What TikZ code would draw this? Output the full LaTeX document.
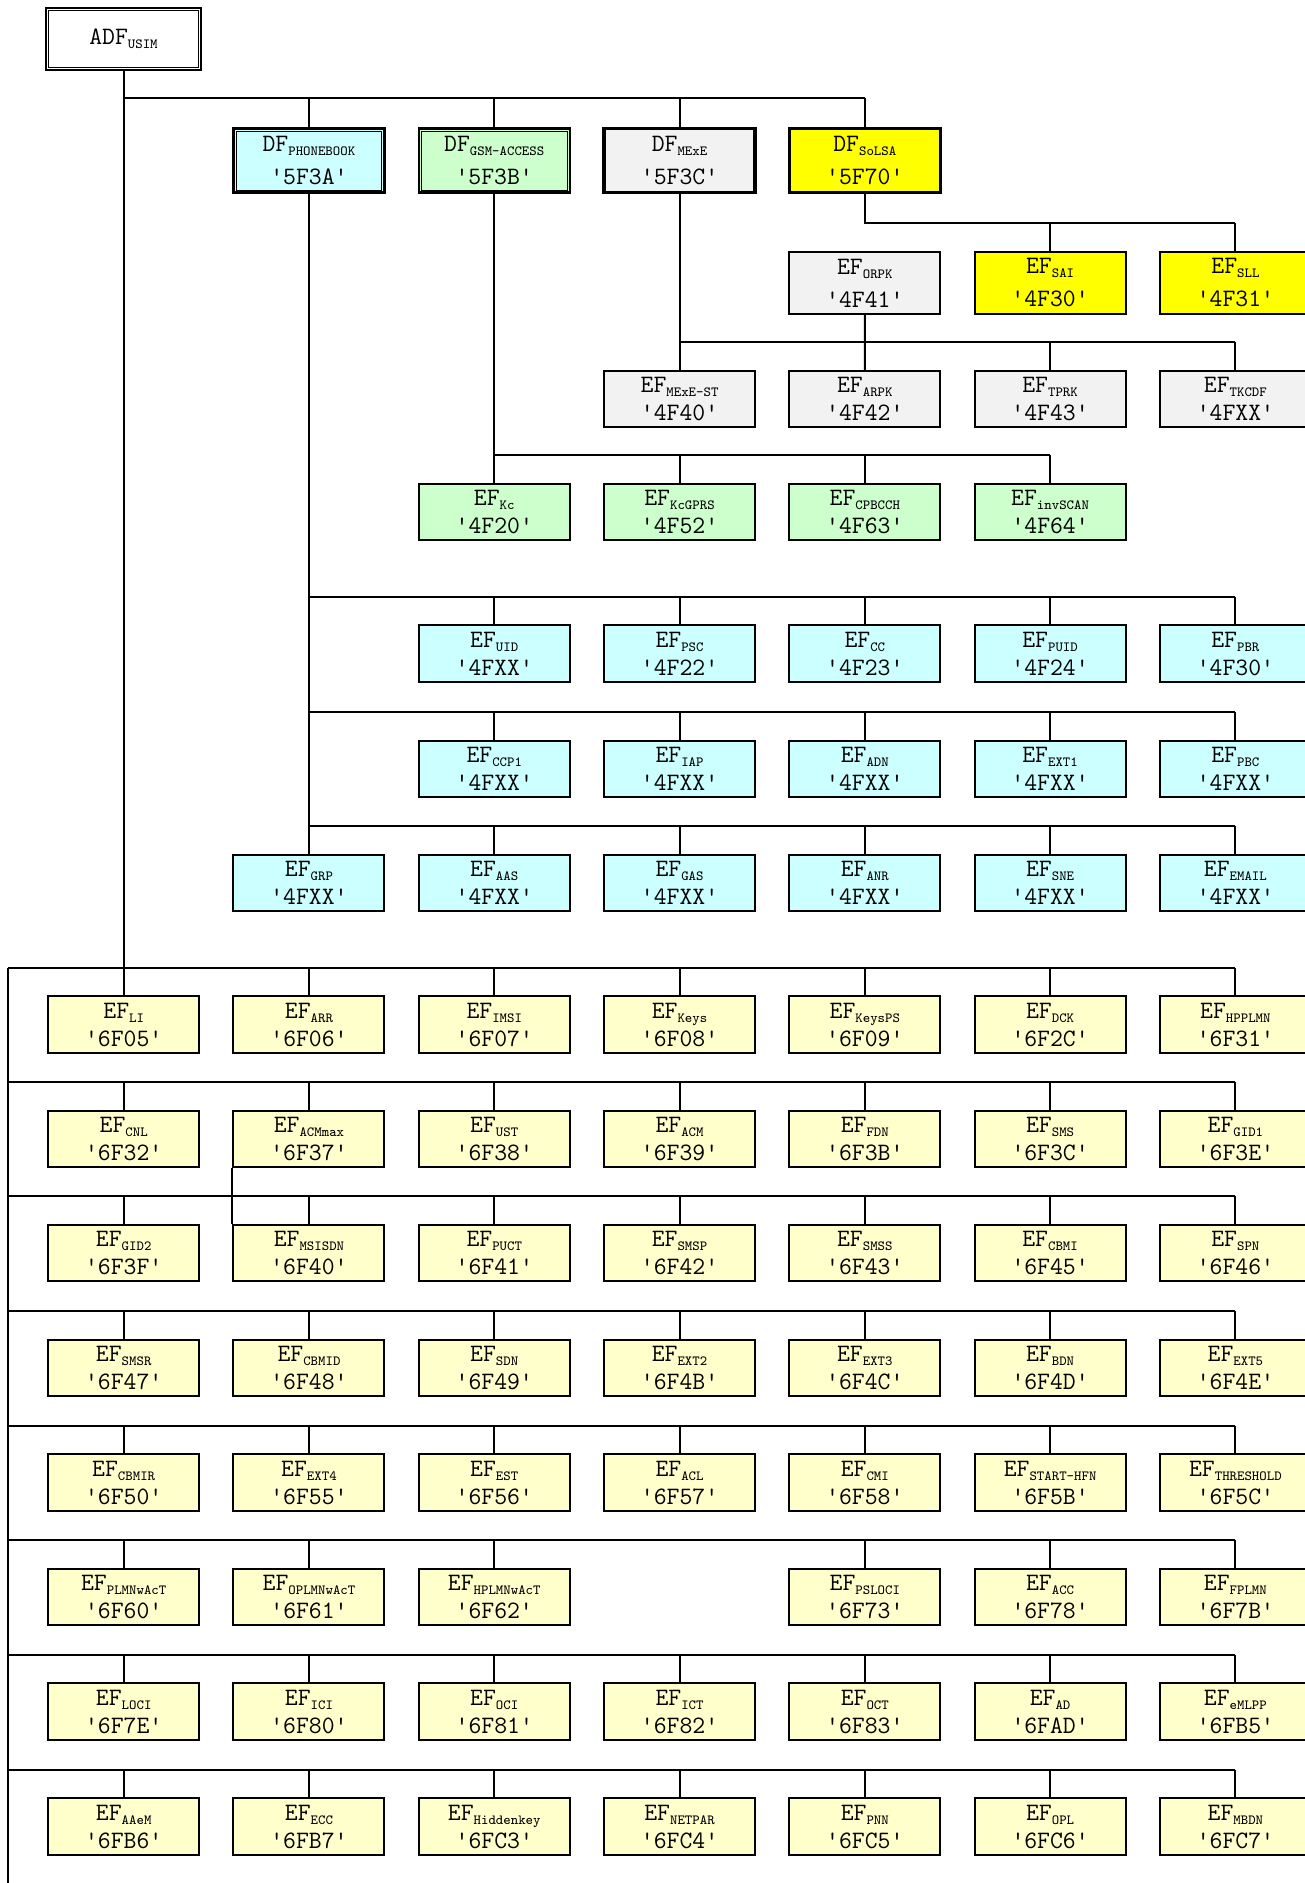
\documentclass[tikz,border=0pt]{standalone}
\definecolor{cyanf}{HTML}{CCFFFF}
\definecolor{greenf}{HTML}{CCFFCC}
\definecolor{grayf}{HTML}{F2F2F2}
\definecolor{ybright}{HTML}{FFFF00}
\definecolor{ylight}{HTML}{FFFFCC}
\newcommand\mysub[1]{\raisebox{-2pt}{\fontsize{7}{7}\selectfont #1}}
\newcommand\qt{\textquotesingle}
\newcommand\mainf{\ttfamily\fontsize{12.5}{14}\selectfont}
% generic row: #1 name, #2 bus y, #3 bus left x, #4 bus right x, #5 style, #6 list ix/sub/code
\newcommand\trow[6]{%
  \coordinate (bus#1) at (#3,#2);
  \coordinate (bus#1r) at (#4,#2);
  \draw[conn] (bus#1) -- (bus#1r);
  \foreach \ix/\nm/\cd in {#6} {
    \node[#5] (#1c\ix) at ({123.7+185.28*\ix},{#2+57}) {EF\mysub{\nm}\\\qt\cd\qt};
    \draw[conn] (#1c\ix.north) -- (#1c\ix.north |- bus#1);
  }%
}
\begin{document}
\begin{tikzpicture}[x=0.5pt,y=-0.5pt,
  conn/.style={line width=1pt},
  box/.style={draw, line width=1pt, minimum width=75.5pt, minimum height=28.25pt, inner sep=0pt, align=center, font=\mainf},
  ybox/.style={box, fill=ylight},
  cbox/.style={box, fill=cyanf},
  gbox/.style={box, fill=greenf},
  grbox/.style={box, fill=grayf},
  dblbox/.style={draw, line width=1.2pt, inner sep=0pt, align=center, font=\mainf,
    path picture={\draw[line width=0.5pt] ([shift={(1.3pt,-1.3pt)}]path picture bounding box.north west) rectangle ([shift={(-1.3pt,1.3pt)}]path picture bounding box.south east);}},
  thkbox/.style={draw, line width=1.6pt, inner sep=0pt, align=center, font=\mainf},
]
\useasboundingbox (0,0) rectangle (1305,1883);

% root
\node[dblbox, fill=white, minimum width=77.5pt, minimum height=30.75pt] (adf) at (123.5,39) {ADF\mysub{USIM}};

% DF row
\node[dblbox, fill=cyanf, minimum width=75.5pt, minimum height=32pt] (dfpb) at (308.9,160.7) {DF\mysub{PHONEBOOK}\\[2.5pt]\qt5F3A\qt};
\node[dblbox, fill=greenf, minimum width=75.5pt, minimum height=32pt] (dfgsm) at (494.2,160.7) {DF\mysub{GSM-ACCESS}\\[2.5pt]\qt5F3B\qt};
\node[thkbox, fill=grayf, minimum width=75.5pt, minimum height=32pt] (dfmexe) at (679.5,160.7) {DF\mysub{MExE}\\[2.5pt]\qt5F3C\qt};
\node[thkbox, fill=ybright, minimum width=75.5pt, minimum height=32pt] (dfsolsa) at (864.8,160.7) {DF\mysub{SoLSA}\\[2.5pt]\qt5F70\qt};

\coordinate (dfbus) at (123.7,98.4);
\draw[conn] (dfbus) -- (dfsolsa.north |- dfbus);
\foreach \n in {dfpb,dfgsm,dfmexe,dfsolsa} \draw[conn] (\n.north) -- (\n.north |- dfbus);

% SoLSA children
\node[box, fill=grayf, minimum height=31pt] (orpk) at (864.8,283) {EF\mysub{ORPK}\\[2.5pt]\qt4F41\qt};
\node[box, fill=ybright, minimum height=31pt] (sai) at (1050.1,283) {EF\mysub{SAI}\\[2.5pt]\qt4F30\qt};
\node[box, fill=ybright, minimum height=31pt] (sll) at (1235.4,283) {EF\mysub{SLL}\\[2.5pt]\qt4F31\qt};
\coordinate (sbus) at (864.8,222.7);
\draw[conn] (dfsolsa.south) -- (sbus) -- (sll.north |- sbus);
\draw[conn] (sai.north) -- (sai.north |- sbus);
\draw[conn] (sll.north) -- (sll.north |- sbus);

% MExE children
\trow{mx}{342}{679.5}{1235.4}{grbox}{3/MExE-ST/4F40,4/ARPK/4F42,5/TPRK/4F43,6/TKCDF/4FXX}
\draw[conn] (dfmexe.south) -- (busmx);
\draw[conn] (orpk.south) -- (mxc4.north);

% GSM-ACCESS children
\trow{gs}{455}{494.2}{1050.1}{gbox}{2/Kc/4F20,3/KcGPRS/4F52,4/CPBCCH/4F63,5/invSCAN/4F64}
\draw[conn] (dfgsm.south) -- (busgs);

% PHONEBOOK children
\trow{pa}{596.7}{308.9}{1235.4}{cbox}{2/UID/4FXX,3/PSC/4F22,4/CC/4F23,5/PUID/4F24,6/PBR/4F30}
\trow{pb}{712}{308.9}{1235.4}{cbox}{2/CCP1/4FXX,3/IAP/4FXX,4/ADN/4FXX,5/EXT1/4FXX,6/PBC/4FXX}
\trow{pc}{826}{308.9}{1235.4}{cbox}{1/GRP/4FXX,2/AAS/4FXX,3/GAS/4FXX,4/ANR/4FXX,5/SNE/4FXX,6/EMAIL/4FXX}
\draw[conn] (dfpb.south) -- (buspc);

% ADF EFs
\trow{ya}{967.7}{8.4}{1235.4}{ybox}{0/LI/6F05,1/ARR/6F06,2/IMSI/6F07,3/Keys/6F08,4/KeysPS/6F09,5/DCK/6F2C,6/HPPLMN/6F31}
\trow{yb}{1082}{8.4}{1235.4}{ybox}{0/CNL/6F32,1/ACMmax/6F37,2/UST/6F38,3/ACM/6F39,4/FDN/6F3B,5/SMS/6F3C,6/GID1/6F3E}
\trow{yc}{1196}{8.4}{1235.4}{ybox}{0/GID2/6F3F,1/MSISDN/6F40,2/PUCT/6F41,3/SMSP/6F42,4/SMSS/6F43,5/CBMI/6F45,6/SPN/6F46}
\trow{yd}{1311}{8.4}{1235.4}{ybox}{0/SMSR/6F47,1/CBMID/6F48,2/SDN/6F49,3/EXT2/6F4B,4/EXT3/6F4C,5/BDN/6F4D,6/EXT5/6F4E}
\trow{ye}{1425.5}{8.4}{1235.4}{ybox}{0/CBMIR/6F50,1/EXT4/6F55,2/EST/6F56,3/ACL/6F57,4/CMI/6F58,5/START-HFN/6F5B,6/THRESHOLD/6F5C}
\trow{yf}{1540}{8.4}{1235.4}{ybox}{0/PLMNwAcT/6F60,1/OPLMNwAcT/6F61,2/HPLMNwAcT/6F62,4/PSLOCI/6F73,5/ACC/6F78,6/FPLMN/6F7B}
\trow{yg}{1654.5}{8.4}{1235.4}{ybox}{0/LOCI/6F7E,1/ICI/6F80,2/OCI/6F81,3/ICT/6F82,4/OCT/6F83,5/AD/6FAD,6/eMLPP/6FB5}
\trow{yh}{1769.5}{8.4}{1235.4}{ybox}{0/AAeM/6FB6,1/ECC/6FB7,2/Hiddenkey/6FC3,3/NETPAR/6FC4,4/PNN/6FC5,5/OPL/6FC6,6/MBDN/6FC7}

% trunk
\draw[conn] (adf.south) -- (adf.south |- busya);
\coordinate (lbot) at (8.4,1890);
\draw[conn] (busya) -- (lbot);
\draw[conn] (ybc1.south west) -- (ycc1.north west);
\end{tikzpicture}
\end{document}
